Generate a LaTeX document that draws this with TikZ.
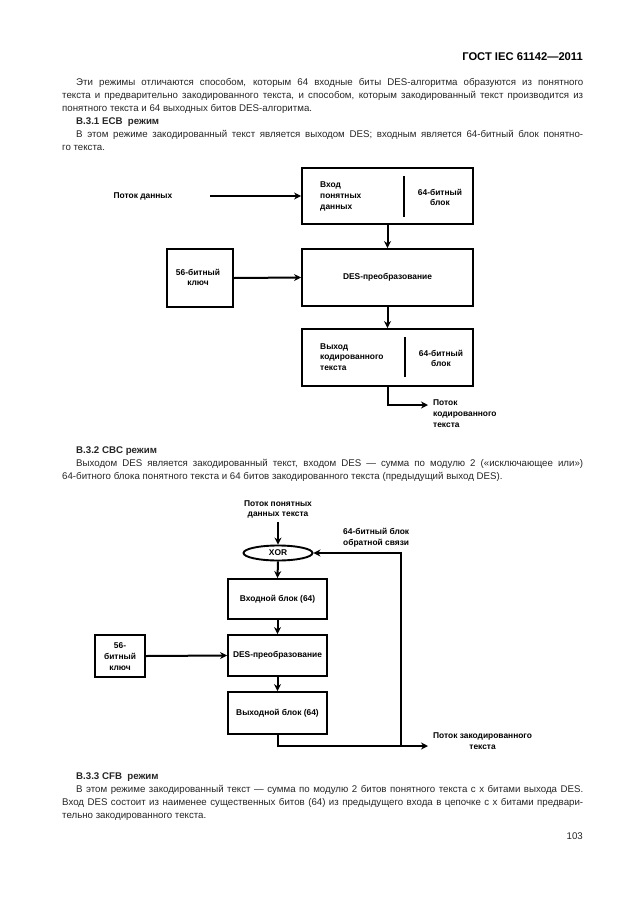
\documentclass[tikz,border=0pt]{standalone}
\usepackage{fontspec}
\setmainfont{Liberation Sans}
\usetikzlibrary{arrows.meta,shapes.geometric}
\begin{document}
\begin{tikzpicture}[x=1pt,y=-1pt,
  txt/.style={inner sep=0pt, anchor=base west, text=black!85, font=\fontsize{9.7}{11}\selectfont},
  hd/.style={txt, font=\fontsize{9.7}{11}\selectfont\bfseries},
  blk/.style={draw, line width=1.9pt, inner sep=0pt},
  lbl/.style={inner sep=0pt, font=\fontsize{8.4}{10.8}\selectfont\bfseries},
  arr/.style={line width=2pt, -{Stealth[length=7pt,width=7pt]}},
  dv/.style={line width=2.4pt}]
\useasboundingbox (0,0) rectangle (630,913);
\fill[white] (0,0) rectangle (630,913);
% header
\node[inner sep=0pt, anchor=base east, font=\fontsize{11.2}{13}\selectfont\bfseries] (hdr) at (583,60) {ГОСТ IEC 61142—2011};
% paragraph 1
\node[txt] (t1) at (76,85) {\makebox[507pt][s]{Эти режимы отличаются способом, которым 64 входные биты DES-алгоритма образуются из понятного}};
\node[txt] (t2) at (62,98) {\makebox[521pt][s]{текста и предварительно закодированного текста, и способом, которым закодированный текст производится из}};
\node[txt] (t3) at (62,111) {понятного текста и 64 выходных битов DES-алгоритма.};
\node[hd] (t4) at (76,124.5) {B.3.1 ECB\ \ режим};
\node[txt] (t5) at (76,137.5) {\makebox[507pt][s]{В этом режиме закодированный текст является выходом DES; входным является 64-битный блок понятно-}};
\node[txt] (t6) at (62,150) {го текста.};
% diagram 1
\node[blk, minimum width=171pt, minimum height=56pt] (in1) at (387.5,196) {};
\node[blk, minimum width=171pt, minimum height=57pt] (des1) at (387.5,277.5) {};
\node[blk, minimum width=171pt, minimum height=57pt] (out1) at (387.5,357.5) {};
\node[blk, minimum width=66pt, minimum height=58pt] (key1) at (200,278) {};
\draw[dv] (404,176) -- (404,217);
\draw[dv] (405,337) -- (405,377);
\node[lbl, anchor=west, align=left] (in1a) at (320,196.5) {Вход\\понятных\\данных};
\node[lbl, align=center] (in1b) at (440,197.5) {64-битный\\блок};
\node[lbl] (des1t) at (387.5,277) {DES-преобразование};
\node[lbl, align=center] (key1t) at (198,277.5) {56-битный\\ключ};
\node[lbl, anchor=west, align=left] (out1a) at (320,357) {Выход\\кодированного\\текста};
\node[lbl, align=center] (out1b) at (441,358.5) {64-битный\\блок};
\node[lbl] (pd) at (143,196) {Поток данных};
\coordinate (a1) at (210,196);
\draw[arr] (a1) -- (in1.west);
\draw[arr] (key1.east) -- (des1.west);
\draw[arr] (in1.south) -- (des1.north);
\draw[arr] (des1.south) -- (out1.north);
\node[lbl, anchor=north west, align=left] (pk1) at (433,399.5) {Поток\\кодированного\\текста};
\coordinate (c1) at (428,405);
\draw[arr] (out1.south) |- (c1);
% section B.3.2
\node[hd] (t7) at (76,453) {B.3.2 CBC режим};
\node[txt] (t8) at (76,466) {\makebox[507pt][s]{Выходом DES является закодированный текст, входом DES — сумма по модулю 2 («исключающее или»)}};
\node[txt] (t9) at (62,479) {64-битного блока понятного текста и 64 битов закодированного текста (предыдущий выход DES).};
% diagram 2
\node[lbl, align=center] (pp) at (278,509.5) {Поток понятных\\данных текста};
\node[draw, ellipse, line width=1.9pt, minimum width=69pt, minimum height=15pt, inner sep=0pt] (xor) at (278,553) {};
\node[lbl] (xort) at (278,553) {XOR};
\node[blk, minimum width=99pt, minimum height=40pt] (in2) at (277.5,599) {};
\node[blk, minimum width=99pt, minimum height=41pt] (des2) at (277.5,655.5) {};
\node[blk, minimum width=99pt, minimum height=42pt] (out2) at (277.5,713) {};
\node[blk, minimum width=50pt, minimum height=42pt] (key2) at (120,656) {};
\node[lbl] (in2t) at (277.5,599) {Входной блок (64)};
\node[lbl] (des2t) at (277.5,655.5) {DES-преобразование};
\node[lbl] (out2t) at (277.5,713) {Выходной блок (64)};
\node[lbl, align=center] (key2t) at (120,656.5) {56-\\битный\\ключ};
\node[lbl, anchor=west, align=left] (fb) at (343,538) {64-битный блок\\обратной связи};
\coordinate (p0) at (278,522);
\draw[arr] (p0) -- (xor.north);
\draw[arr] (xor.south) -- (in2.north);
\draw[arr] (in2.south) -- (des2.north);
\draw[arr] (des2.south) -- (out2.north);
\draw[arr] (key2.east) -- (des2.west);
\coordinate (c2) at (428,746);
\coordinate (jn) at (401,746);
\draw[arr] (out2.south) |- (c2);
\draw[arr] (jn) |- (xor.east);
\node[lbl, anchor=north west, align=center] (pk2) at (433,733) {Поток закодированного\\текста};
% section B.3.3
\node[hd] (t10) at (76,779) {B.3.3 CFB\ \ режим};
\node[txt] (t11) at (76,792) {\makebox[507pt][s]{В этом режиме закодированный текст — сумма по модулю 2 битов понятного текста с x битами выхода DES.}};
\node[txt] (t12) at (62,805) {\makebox[521pt][s]{Вход DES состоит из наименее существенных битов (64) из предыдущего входа в цепочке с x битами предвари-}};
\node[txt] (t13) at (62,818) {тельно закодированного текста.};
\node[inner sep=0pt, anchor=base east, text=black!85, font=\fontsize{9.7}{11}\selectfont] (pg) at (583,839.5) {103};
\end{tikzpicture}
\end{document}
